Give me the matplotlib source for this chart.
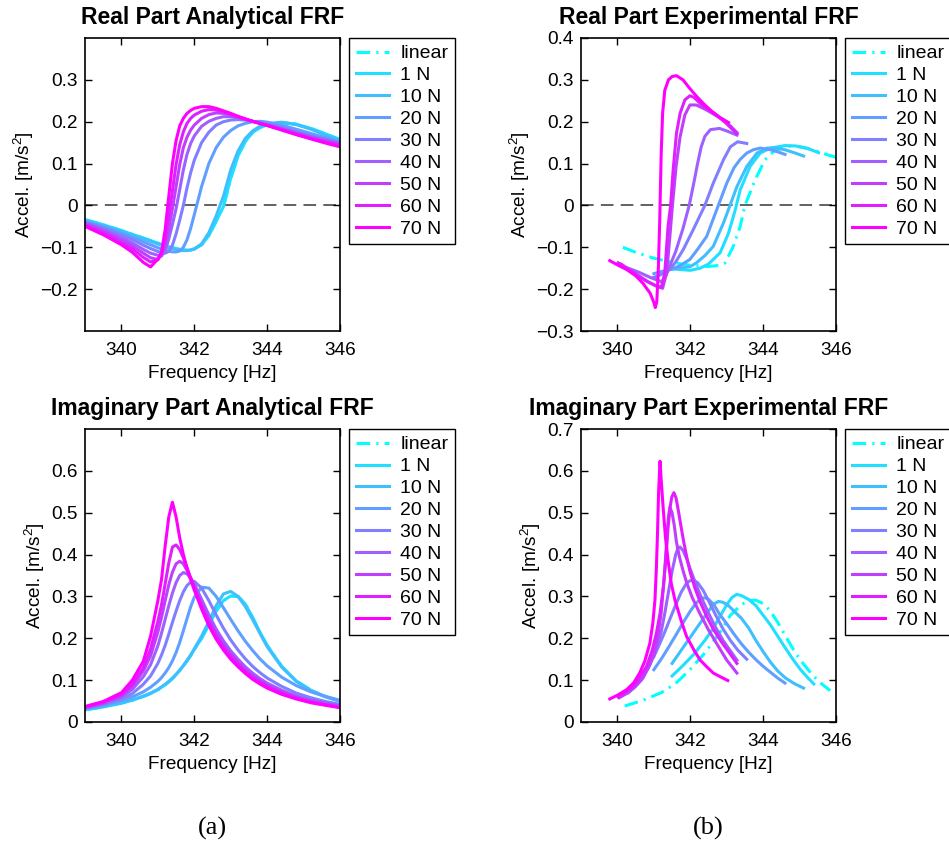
import numpy as np
import matplotlib
matplotlib.use('Agg')
import matplotlib.pyplot as plt
from matplotlib.ticker import FuncFormatter

plt.rcParams['font.family'] = ['Liberation Sans', 'DejaVu Sans']
plt.rcParams['mathtext.default'] = 'regular'

# legend labels (linear + force levels)
labels = ['linear', '1 N', '10 N', '20 N', '30 N', '40 N', '50 N', '60 N', '70 N']

# ---- analytical FRF : common frequency grid, one row per force (1 N .. 70 N)
freq_ana = [339.0, 339.5, 340.0, 340.3, 340.6, 340.8, 341.0, 341.1, 341.2, 341.3, 341.4,
            341.5, 341.6, 341.7, 341.8, 341.9, 342.0, 342.2, 342.4, 342.6, 342.8, 343.0,
            343.2, 343.4, 343.6, 343.8, 344.0, 344.4, 344.8, 345.2, 345.6, 346.0]

re_ana = [
    [-0.034, -0.046, -0.060, -0.069, -0.078, -0.084, -0.090, -0.093, -0.096, -0.099, -0.101,
     -0.103, -0.105, -0.106, -0.107, -0.106, -0.104, -0.094, -0.072, -0.038, -0.003, 0.065,
     0.118, 0.153, 0.174, 0.186, 0.193, 0.198, 0.194, 0.184, 0.171, 0.158],
    [-0.036, -0.048, -0.062, -0.071, -0.080, -0.086, -0.092, -0.095, -0.098, -0.101, -0.103,
     -0.105, -0.107, -0.108, -0.108, -0.107, -0.104, -0.092, -0.065, -0.025, 0.022, 0.085,
     0.130, 0.160, 0.178, 0.189, 0.195, 0.199, 0.193, 0.182, 0.168, 0.155],
    [-0.038, -0.051, -0.066, -0.076, -0.087, -0.094, -0.101, -0.104, -0.107, -0.109, -0.111,
     -0.111, -0.109, -0.100, -0.082, -0.055, -0.022, 0.045, 0.100, 0.138, 0.163, 0.179,
     0.190, 0.196, 0.200, 0.201, 0.199, 0.192, 0.182, 0.172, 0.162, 0.152],
    [-0.040, -0.054, -0.071, -0.082, -0.095, -0.103, -0.110, -0.113, -0.114, -0.110, -0.095,
     -0.068, -0.035, 0.000, 0.042, 0.078, 0.108, 0.150, 0.175, 0.192, 0.200, 0.204,
     0.205, 0.204, 0.201, 0.198, 0.194, 0.186, 0.176, 0.166, 0.158, 0.150],
    [-0.042, -0.058, -0.077, -0.090, -0.105, -0.114, -0.119, -0.121, -0.108, -0.080, -0.045,
     -0.008, 0.038, 0.085, 0.122, 0.148, 0.166, 0.189, 0.201, 0.208, 0.212, 0.212,
     0.209, 0.205, 0.201, 0.197, 0.193, 0.184, 0.174, 0.164, 0.156, 0.148],
    [-0.044, -0.062, -0.083, -0.097, -0.114, -0.125, -0.129, -0.118, -0.093, -0.055, -0.008,
     0.045, 0.098, 0.138, 0.163, 0.180, 0.192, 0.208, 0.217, 0.221, 0.220, 0.216,
     0.211, 0.206, 0.201, 0.196, 0.192, 0.182, 0.172, 0.162, 0.153, 0.146],
    [-0.047, -0.066, -0.089, -0.104, -0.124, -0.135, -0.130, -0.113, -0.078, -0.025, 0.035,
     0.098, 0.145, 0.176, 0.196, 0.208, 0.216, 0.225, 0.229, 0.228, 0.224, 0.218,
     0.212, 0.206, 0.201, 0.196, 0.191, 0.181, 0.170, 0.160, 0.151, 0.143],
    [-0.050, -0.070, -0.094, -0.112, -0.136, -0.147, -0.128, -0.112, -0.058, 0.022, 0.100,
     0.155, 0.190, 0.208, 0.220, 0.227, 0.232, 0.236, 0.236, 0.232, 0.226, 0.220,
     0.213, 0.207, 0.201, 0.196, 0.191, 0.180, 0.169, 0.159, 0.149, 0.140],
]

im_ana = [
    [0.029, 0.036, 0.045, 0.052, 0.061, 0.068, 0.077, 0.083, 0.089, 0.096, 0.104,
     0.113, 0.123, 0.134, 0.146, 0.159, 0.173, 0.200, 0.232, 0.265, 0.290, 0.301,
     0.300, 0.282, 0.250, 0.215, 0.183, 0.133, 0.098, 0.076, 0.061, 0.050],
    [0.030, 0.037, 0.046, 0.053, 0.062, 0.069, 0.078, 0.084, 0.090, 0.097, 0.105,
     0.114, 0.124, 0.135, 0.147, 0.160, 0.175, 0.205, 0.240, 0.278, 0.306, 0.312,
     0.300, 0.276, 0.245, 0.212, 0.180, 0.131, 0.097, 0.075, 0.060, 0.049],
    [0.032, 0.040, 0.051, 0.060, 0.072, 0.083, 0.097, 0.106, 0.117, 0.130, 0.146,
     0.166, 0.190, 0.218, 0.247, 0.275, 0.298, 0.322, 0.320, 0.300, 0.273, 0.245,
     0.218, 0.193, 0.171, 0.151, 0.134, 0.107, 0.087, 0.072, 0.061, 0.052],
    [0.033, 0.042, 0.055, 0.068, 0.090, 0.110, 0.140, 0.160, 0.183, 0.210, 0.238,
     0.265, 0.290, 0.311, 0.326, 0.334, 0.336, 0.320, 0.290, 0.256, 0.224, 0.196,
     0.172, 0.151, 0.133, 0.118, 0.105, 0.085, 0.069, 0.058, 0.049, 0.042],
    [0.034, 0.044, 0.060, 0.078, 0.108, 0.137, 0.182, 0.212, 0.245, 0.278, 0.308,
     0.333, 0.350, 0.357, 0.354, 0.344, 0.330, 0.293, 0.256, 0.222, 0.194, 0.170,
     0.150, 0.132, 0.117, 0.104, 0.093, 0.076, 0.062, 0.052, 0.045, 0.039],
    [0.035, 0.046, 0.063, 0.085, 0.122, 0.158, 0.215, 0.250, 0.290, 0.328, 0.358,
     0.378, 0.384, 0.378, 0.362, 0.343, 0.323, 0.282, 0.245, 0.212, 0.185, 0.162,
     0.143, 0.126, 0.111, 0.099, 0.088, 0.072, 0.059, 0.050, 0.043, 0.037],
    [0.036, 0.047, 0.066, 0.090, 0.130, 0.175, 0.240, 0.280, 0.330, 0.380, 0.418,
     0.423, 0.412, 0.392, 0.368, 0.345, 0.322, 0.278, 0.238, 0.205, 0.178, 0.156,
     0.138, 0.121, 0.107, 0.095, 0.085, 0.069, 0.057, 0.048, 0.041, 0.035],
    [0.037, 0.049, 0.070, 0.100, 0.145, 0.205, 0.290, 0.340, 0.420, 0.490, 0.525,
     0.490, 0.440, 0.400, 0.368, 0.340, 0.315, 0.270, 0.230, 0.198, 0.172, 0.150,
     0.132, 0.116, 0.102, 0.091, 0.081, 0.066, 0.055, 0.046, 0.040, 0.034],
]

# ---- experimental FRF : each sweep has its own frequency range (linear, 1 N .. 70 N)
re_exp_f = [
    [340.15, 340.5, 341.0, 341.5, 342.0, 342.5, 342.8, 342.95, 343.18, 343.37, 343.5,
     343.78, 344.05, 344.3, 344.65, 345.0, 345.4, 345.8, 346.0],
    [341.45, 341.7, 342.0, 342.27, 342.5, 342.82, 343.05, 343.23, 343.37, 343.64, 343.92,
     344.2, 344.6, 344.9, 345.2, 345.52],
    [341.45, 341.7, 342.0, 342.17, 342.4, 342.63, 342.91, 343.09, 343.28, 343.55, 343.83,
     344.1, 344.35, 344.6, 344.85, 345.11],
    [341.0, 341.2, 341.44, 341.7, 341.99, 342.2, 342.45, 342.77, 343.0, 343.2, 343.37,
     343.55, 343.73, 343.92, 344.2, 344.4, 344.6],
    [341.0, 341.2, 341.44, 341.6, 341.81, 342.08, 342.4, 342.63, 342.91, 343.1, 343.3, 343.55],
    [340.3, 340.6, 340.9, 341.2, 341.3, 341.39, 341.6, 341.8, 341.97, 342.1, 342.2, 342.3,
     342.4, 342.55, 342.8, 343.0, 343.28],
    [340.1, 340.5, 340.85, 341.1, 341.24, 341.35, 341.44, 341.51, 341.61, 341.72, 341.85,
     341.99, 342.17, 342.45, 342.7, 342.91, 343.1, 343.28],
    [340.02, 340.43, 340.8, 341.08, 341.21, 341.3, 341.39, 341.46, 341.53, 341.62, 341.72,
     341.85, 341.99, 342.1, 342.27, 342.5, 342.72, 343.0, 343.28],
    [339.79, 340.0, 340.25, 340.5, 340.7, 340.9, 341.0, 341.04, 341.08, 341.12, 341.16,
     341.2, 341.24, 341.3, 341.4, 341.5, 341.62, 341.8, 342.0, 342.2, 342.4, 342.6, 342.8, 343.05],
]
re_exp_v = [
    [-0.100, -0.112, -0.126, -0.136, -0.143, -0.146, -0.143, -0.138, -0.098, -0.050, 0.0,
     0.061, 0.109, 0.130, 0.142, 0.140, 0.132, 0.120, 0.115],
    [-0.151, -0.153, -0.155, -0.150, -0.140, -0.113, -0.066, -0.012, 0.037, 0.093, 0.125,
     0.137, 0.143, 0.142, 0.137, 0.126],
    [-0.153, -0.150, -0.146, -0.137, -0.120, -0.098, -0.042, 0.0, 0.045, 0.093, 0.125,
     0.137, 0.137, 0.133, 0.126, 0.118],
    [-0.163, -0.158, -0.153, -0.145, -0.129, -0.105, -0.074, 0.0, 0.053, 0.090, 0.110,
     0.125, 0.133, 0.137, 0.133, 0.128, 0.122],
    [-0.172, -0.165, -0.153, -0.135, -0.105, -0.058, 0.0, 0.053, 0.109, 0.140, 0.152, 0.148],
    [-0.150, -0.160, -0.172, -0.182, -0.175, -0.155, -0.110, -0.055, 0.0, 0.055, 0.100, 0.140,
     0.165, 0.181, 0.184, 0.178, 0.168],
    [-0.140, -0.163, -0.183, -0.194, -0.198, -0.161, -0.074, 0.0, 0.093, 0.164, 0.216,
     0.240, 0.240, 0.228, 0.215, 0.204, 0.190, 0.174],
    [-0.137, -0.161, -0.181, -0.193, -0.195, -0.161, -0.050, 0.0, 0.085, 0.172, 0.220,
     0.252, 0.262, 0.258, 0.244, 0.230, 0.216, 0.195, 0.171],
    [-0.132, -0.142, -0.153, -0.168, -0.186, -0.210, -0.232, -0.244, -0.230, -0.160, -0.040,
     0.120, 0.220, 0.275, 0.300, 0.308, 0.310, 0.300, 0.278, 0.258, 0.240, 0.224, 0.211, 0.198],
]

im_exp_f = [
    [340.2, 340.7, 341.2, 341.6, 342.0, 342.4, 342.8, 343.1, 343.4, 343.6, 343.8, 344.0,
     344.2, 344.4, 344.65, 344.85, 345.05, 345.3, 345.55, 345.84],
    [341.5, 341.8, 342.1, 342.4, 342.6, 342.8, 343.0, 343.15, 343.28, 343.4, 343.6, 343.8,
     344.0, 344.2, 344.4, 344.6, 344.8, 345.0, 345.2, 345.39],
    [341.5, 341.7, 341.9, 342.1, 342.3, 342.5, 342.65, 342.77, 342.9, 343.05, 343.2, 343.4,
     343.6, 343.8, 344.0, 344.2, 344.4, 344.6, 344.85, 345.11],
    [341.0, 341.2, 341.4, 341.6, 341.8, 342.0, 342.15, 342.3, 342.4, 342.5, 342.65, 342.8,
     343.0, 343.2, 343.4, 343.6, 343.8, 344.0, 344.2, 344.4, 344.6],
    [341.0, 341.15, 341.3, 341.45, 341.6, 341.75, 341.9, 342.0, 342.08, 342.2, 342.35,
     342.5, 342.7, 342.9, 343.1, 343.3, 343.55],
    [340.3, 340.5, 340.7, 340.9, 341.05, 341.2, 341.3, 341.4, 341.5, 341.6, 341.66, 341.72,
     341.8, 341.9, 342.0, 342.15, 342.3, 342.5, 342.7, 342.9, 343.1, 343.28],
    [340.05, 340.25, 340.45, 340.65, 340.85, 341.0, 341.1, 341.2, 341.28, 341.35, 341.4,
     341.44, 341.5, 341.56, 341.62, 341.7, 341.8, 341.9, 342.05, 342.27, 342.5, 342.72,
     343.0, 343.28],
    [340.02, 340.2, 340.43, 340.6, 340.8, 340.95, 341.07, 341.17, 341.26, 341.33, 341.39,
     341.45, 341.49, 341.55, 341.61, 341.67, 341.74, 341.81, 341.9, 341.99, 342.12, 342.27,
     342.45, 342.63, 342.85, 343.05, 343.28],
    [339.79, 340.0, 340.25, 340.45, 340.61, 340.75, 340.89, 340.97, 341.03, 341.07, 341.1,
     341.13, 341.17, 341.2, 341.26, 341.32, 341.39, 341.48, 341.58, 341.75, 341.9, 342.1,
     342.27, 342.45, 342.63, 342.85, 343.03],
]
im_exp_v = [
    [0.038, 0.052, 0.070, 0.092, 0.126, 0.165, 0.212, 0.255, 0.280, 0.290, 0.291, 0.283,
     0.265, 0.238, 0.200, 0.170, 0.145, 0.118, 0.095, 0.075],
    [0.110, 0.135, 0.162, 0.195, 0.220, 0.250, 0.280, 0.298, 0.305, 0.302, 0.293, 0.278,
     0.255, 0.232, 0.205, 0.178, 0.152, 0.128, 0.108, 0.091],
    [0.140, 0.165, 0.190, 0.215, 0.240, 0.265, 0.282, 0.288, 0.286, 0.278, 0.265, 0.248,
     0.225, 0.195, 0.168, 0.143, 0.122, 0.106, 0.092, 0.081],
    [0.125, 0.150, 0.178, 0.207, 0.237, 0.265, 0.283, 0.295, 0.297, 0.293, 0.280, 0.258,
     0.235, 0.210, 0.187, 0.167, 0.149, 0.133, 0.119, 0.105, 0.093],
    [0.156, 0.185, 0.215, 0.248, 0.280, 0.310, 0.332, 0.338, 0.339, 0.333, 0.315,
     0.290, 0.255, 0.222, 0.195, 0.172, 0.150],
    [0.070, 0.085, 0.105, 0.138, 0.170, 0.215, 0.260, 0.310, 0.360, 0.400, 0.415, 0.418,
     0.410, 0.390, 0.365, 0.330, 0.298, 0.260, 0.225, 0.195, 0.170, 0.148],
    [0.058, 0.068, 0.082, 0.100, 0.130, 0.162, 0.200, 0.260, 0.340, 0.430, 0.490,
     0.513, 0.500, 0.470, 0.430, 0.395, 0.362, 0.333, 0.298, 0.258, 0.220, 0.188,
     0.148, 0.117],
    [0.060, 0.070, 0.085, 0.105, 0.133, 0.170, 0.212, 0.260, 0.323, 0.390, 0.466,
     0.515, 0.537, 0.548, 0.535, 0.506, 0.470, 0.435, 0.395, 0.360, 0.322, 0.287,
     0.252, 0.222, 0.192, 0.168, 0.140],
    [0.055, 0.064, 0.077, 0.094, 0.117, 0.145, 0.188, 0.235, 0.291, 0.370, 0.450,
     0.550, 0.623, 0.580, 0.506, 0.440, 0.386, 0.330, 0.291, 0.242, 0.204, 0.172,
     0.148, 0.132, 0.117, 0.107, 0.099],
]

colors = plt.cm.cool(np.linspace(0, 1, len(labels)))
dashdot = (0, (4.5, 2.0, 0.7, 2.0))
LW = 2.2


def fmt(v, pos):
    return ('%g' % round(v, 2)).replace('-', '\u2212')


def style_axes(ax, title, yticks, ylim):
    ax.set_xlim(339, 346)
    ax.set_ylim(*ylim)
    ax.set_xticks([340, 342, 344, 346])
    ax.set_yticks(yticks)
    ax.yaxis.set_major_formatter(FuncFormatter(fmt))
    ax.tick_params(direction='in', top=True, right=True, length=5, width=1,
                   labelsize=13.7, pad=5)
    ax.tick_params(axis='x', pad=8)
    for s in ax.spines.values():
        s.set_linewidth(1.2)
    ax.set_title(title, fontsize=16.5, fontweight='bold', pad=10)
    ax.set_xlabel('Frequency [Hz]', fontsize=13.7, labelpad=4)
    ax.set_ylabel('Accel. [m/s$^2$]', fontsize=13.7, labelpad=3)
    leg = ax.legend(loc='upper left', bbox_to_anchor=(1.035, 1.0), borderaxespad=0,
                    fontsize=14, fancybox=False, edgecolor='black', framealpha=1,
                    handlelength=1.7, handletextpad=0.6, labelspacing=0.22,
                    borderpad=0.35)
    leg.get_frame().set_linewidth(1.0)


def plot_analytical(ax, rows):
    # linear model sits underneath the 1 N curve
    ax.plot(freq_ana, rows[0], color=colors[0], lw=LW, ls=dashdot, label=labels[0])
    for i, row in enumerate(rows):
        ax.plot(freq_ana, row, color=colors[i + 1], lw=LW, label=labels[i + 1])


def plot_experimental(ax, fs, vs):
    for i in range(len(labels)):
        ls = dashdot if i == 0 else '-'
        ax.plot(fs[i], vs[i], color=colors[i], lw=LW, ls=ls, label=labels[i])


fig = plt.figure(figsize=(9.49, 8.49), dpi=100)
W, H = 949.0, 849.0
ax1 = fig.add_axes([85 / W, (H - 331) / H, 255 / W, 293 / H])
ax2 = fig.add_axes([581 / W, (H - 331) / H, 255 / W, 293 / H])
ax3 = fig.add_axes([85 / W, (H - 722) / H, 255 / W, 293 / H])
ax4 = fig.add_axes([581 / W, (H - 722) / H, 255 / W, 293 / H])

for ax in (ax1, ax2):
    ax.axhline(0, color='#555555', lw=1.3, dashes=(7, 4), zorder=0.5)

plot_analytical(ax1, re_ana)
plot_experimental(ax2, re_exp_f, re_exp_v)
plot_analytical(ax3, im_ana)
plot_experimental(ax4, im_exp_f, im_exp_v)

style_axes(ax1, 'Real Part Analytical FRF', [-0.2, -0.1, 0, 0.1, 0.2, 0.3], (-0.3, 0.4))
style_axes(ax2, 'Real Part Experimental FRF',
           [-0.3, -0.2, -0.1, 0, 0.1, 0.2, 0.3, 0.4], (-0.3, 0.4))
style_axes(ax3, 'Imaginary Part Analytical FRF', [0, 0.1, 0.2, 0.3, 0.4, 0.5, 0.6], (0, 0.7))
style_axes(ax4, 'Imaginary Part Experimental FRF',
           [0, 0.1, 0.2, 0.3, 0.4, 0.5, 0.6, 0.7], (0, 0.7))

fig.text(212 / W, (H - 828) / H, '(a)', ha='center', va='center', fontsize=19,
         family='Liberation Serif')
fig.text(708 / W, (H - 828) / H, '(b)', ha='center', va='center', fontsize=19,
         family='Liberation Serif')

fig.savefig('out.png', dpi=100)
